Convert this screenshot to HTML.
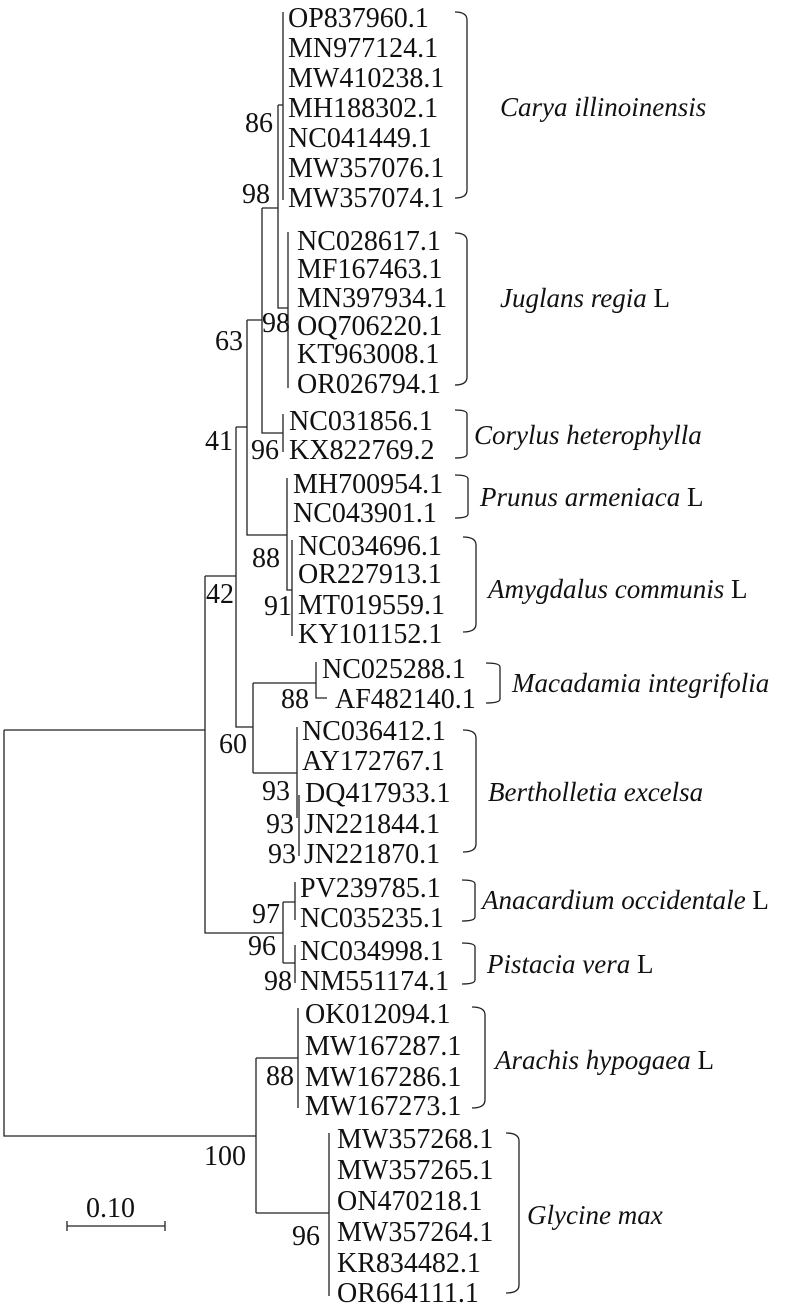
<!DOCTYPE html>
<html><head><meta charset="utf-8"><style>
html,body{margin:0;padding:0;background:#fff}
svg{display:block}
text{font-family:"Liberation Serif","DejaVu Serif",serif;font-size:28px;fill:#111}
.sp text{font-size:27px}
.i{font-style:italic}
</style></head><body>
<svg width="800" height="1305" viewBox="0 0 800 1305" xmlns="http://www.w3.org/2000/svg" font-family="Liberation Serif, DejaVu Serif, serif">
<g stroke="#222" stroke-width="1.3" fill="none">
<path d="M283 12V200M278 105H283M278 105V308H288M288 232V388M262 208H278M262 208V433H283M283 414V452"/>
<path d="M247 320H262M247 320V535H287M287 478V590H292M292 540V636"/>
<path d="M236 427H247M236 427V727H253M253 683V773M253 683H316M316 662V698H327M253 773H297M297 727V818M299 795V856"/>
<path d="M205 576H236M205 576V933H283M283 902V963M283 902H295M295 882V920M283 963H295M295 945V983"/>
<path d="M4 730H205M4 730V1136H256M256 1058V1213M256 1058H298M298 1008V1108M256 1213H329M329 1133V1296"/>
<path d="M67 1226H165M67 1221V1231M165 1221V1231"/>
<path d="M455 12Q467 12 467 20V190Q467 198 455 198"/>
<path d="M455 233Q467 233 467 241V377Q467 385 455 385"/>
<path d="M455 410Q467 410 467 414V454Q467 458 455 458"/>
<path d="M455 475Q468 475 468 479V514Q468 518 455 518"/>
<path d="M463 537Q476 537 476 545V624Q476 632 463 632"/>
<path d="M486 663Q500 663 500 667V699Q500 703 486 703"/>
<path d="M463 730Q476 730 476 738V844Q476 852 463 852"/>
<path d="M462 880Q475 880 475 884V917Q475 921 462 921"/>
<path d="M462 943Q475 943 475 947V980Q475 984 462 984"/>
<path d="M472 1007Q485 1007 485 1015V1100Q485 1108 472 1108"/>
<path d="M506 1133Q519 1133 519 1141V1285Q519 1293 506 1293"/>
</g>
<g>
<text x="288" y="27">OP837960.1</text>
<text x="288" y="57">MN977124.1</text>
<text x="288" y="87">MW410238.1</text>
<text x="288" y="117">MH188302.1</text>
<text x="288" y="147">NC041449.1</text>
<text x="288" y="177">MW357076.1</text>
<text x="288" y="207">MW357074.1</text>
<text x="297" y="250">NC028617.1</text>
<text x="297" y="278">MF167463.1</text>
<text x="297" y="307">MN397934.1</text>
<text x="297" y="335">OQ706220.1</text>
<text x="297" y="363">KT963008.1</text>
<text x="297" y="393">OR026794.1</text>
<text x="289" y="430">NC031856.1</text>
<text x="289" y="459">KX822769.2</text>
<text x="293" y="493">MH700954.1</text>
<text x="293" y="522">NC043901.1</text>
<text x="298" y="555">NC034696.1</text>
<text x="298" y="583">OR227913.1</text>
<text x="298" y="614">MT019559.1</text>
<text x="298" y="643">KY101152.1</text>
<text x="322" y="678">NC025288.1</text>
<text x="335" y="708">AF482140.1</text>
<text x="302" y="740">NC036412.1</text>
<text x="302" y="770">AY172767.1</text>
<text x="305" y="802">DQ417933.1</text>
<text x="304" y="833">JN221844.1</text>
<text x="304" y="863">JN221870.1</text>
<text x="300" y="897">PV239785.1</text>
<text x="300" y="927">NC035235.1</text>
<text x="300" y="960">NC034998.1</text>
<text x="300" y="990">NM551174.1</text>
<text x="305" y="1023">OK012094.1</text>
<text x="305" y="1055">MW167287.1</text>
<text x="305" y="1086">MW167286.1</text>
<text x="305" y="1115">MW167273.1</text>
<text x="337" y="1148">MW357268.1</text>
<text x="337" y="1179">MW357265.1</text>
<text x="337" y="1210">ON470218.1</text>
<text x="337" y="1241">MW357264.1</text>
<text x="337" y="1272">KR834482.1</text>
<text x="337" y="1302">OR664111.1</text>
</g>
<g>
<text x="245" y="132">86</text>
<text x="242" y="203">98</text>
<text x="262" y="332">98</text>
<text x="215" y="350">63</text>
<text x="205" y="450">41</text>
<text x="251" y="459">96</text>
<text x="252" y="567">88</text>
<text x="206" y="603">42</text>
<text x="264" y="615">91</text>
<text x="281" y="708">88</text>
<text x="219" y="753">60</text>
<text x="262" y="800">93</text>
<text x="266" y="833">93</text>
<text x="268" y="863">93</text>
<text x="252" y="923">97</text>
<text x="248" y="955">96</text>
<text x="264" y="990">98</text>
<text x="266" y="1085">88</text>
<text x="204" y="1165">100</text>
<text x="292" y="1245">96</text>
<text x="86" y="1217">0.10</text>
</g>
<g class="sp">
<text x="500" y="116"><tspan class="i">Carya illinoinensis</tspan></text>
<text x="500" y="307"><tspan class="i">Juglans regia</tspan> L</text>
<text x="474" y="444"><tspan class="i">Corylus heterophylla</tspan></text>
<text x="480" y="506"><tspan class="i">Prunus armeniaca</tspan> L</text>
<text x="488" y="598"><tspan class="i">Amygdalus communis</tspan> L</text>
<text x="512" y="692"><tspan class="i">Macadamia integrifolia</tspan></text>
<text x="488" y="801"><tspan class="i">Bertholletia excelsa</tspan></text>
<text x="482" y="909"><tspan class="i">Anacardium occidentale</tspan> L</text>
<text x="487" y="973"><tspan class="i">Pistacia vera</tspan> L</text>
<text x="495" y="1069"><tspan class="i">Arachis hypogaea</tspan> L</text>
<text x="527" y="1224"><tspan class="i">Glycine max</tspan></text>
</g>
</svg>
</body></html>
